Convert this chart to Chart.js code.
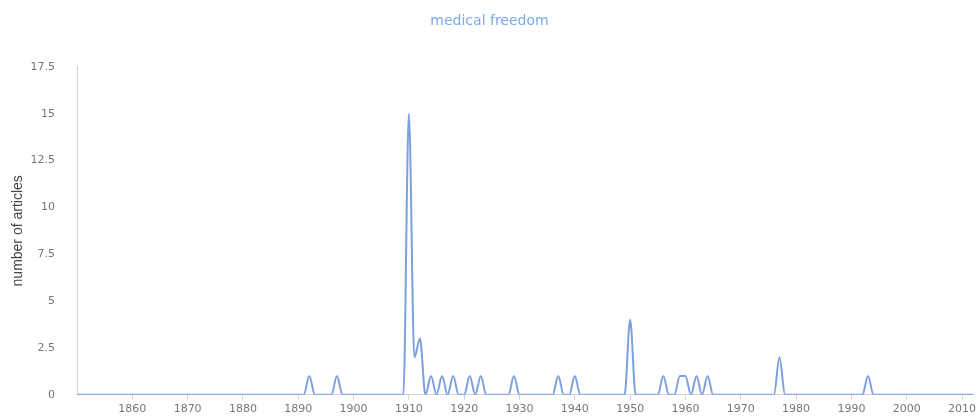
<!DOCTYPE html>
<html lang="en">
<head>
    <meta charset="UTF-8">
    <title>medical freedom</title>
    <script src="https://cdn.jsdelivr.net/npm/chart.js"></script>
    <style>
        body {
            margin: 0;
            background: #fff;
        }
        #chartContainer {
            width: 979px;
            height: 419px;
        }
    </style>
</head>
<body>

<div id="chartContainer">
    <canvas id="articlesChart"></canvas>
</div>

<script>
    // years 1850..2012, one count per year
    const years = [];
    for (let y = 1850; y <= 2012; y++) years.push(y);

    const counts = [
        // 1850s
        0, 0, 0, 0, 0, 0, 0, 0, 0, 0,
        // 1860s
        0, 0, 0, 0, 0, 0, 0, 0, 0, 0,
        // 1870s
        0, 0, 0, 0, 0, 0, 0, 0, 0, 0,
        // 1880s
        0, 0, 0, 0, 0, 0, 0, 0, 0, 0,
        // 1890s
        0, 0, 1, 0, 0, 0, 0, 1, 0, 0,
        // 1900s
        0, 0, 0, 0, 0, 0, 0, 0, 0, 0,
        // 1910s
        15, 2, 3, 0, 1, 0, 1, 0, 1, 0,
        // 1920s
        0, 1, 0, 1, 0, 0, 0, 0, 0, 1,
        // 1930s
        0, 0, 0, 0, 0, 0, 0, 1, 0, 0,
        // 1940s
        1, 0, 0, 0, 0, 0, 0, 0, 0, 0,
        // 1950s
        4, 0, 0, 0, 0, 0, 1, 0, 0, 1,
        // 1960s
        1, 0, 1, 0, 1, 0, 0, 0, 0, 0,
        // 1970s
        0, 0, 0, 0, 0, 0, 0, 2, 0, 0,
        // 1980s
        0, 0, 0, 0, 0, 0, 0, 0, 0, 0,
        // 1990s
        0, 0, 0, 1, 0, 0, 0, 0, 0, 0,
        // 2000s
        0, 0, 0, 0, 0, 0, 0, 0, 0, 0,
        // 2010-2012
        0, 0, 0
    ];

    const xTicks = [1860, 1870, 1880, 1890, 1900, 1910, 1920, 1930, 1940, 1950, 1960, 1970, 1980, 1990, 2000, 2010];
    const yTicks = [0, 2.5, 5, 7.5, 10, 12.5, 15, 17.5];

    const lineColor = 'rgb(125, 160, 225)';
    const axisColor = '#d4d4dc';
    const tickFont = { family: 'DejaVu Sans', size: 11 };

    const ctx = document.getElementById('articlesChart').getContext('2d');

    new Chart(ctx, {
        type: 'line',
        data: {
            datasets: [{
                label: 'medical freedom',
                data: years.map((y, i) => ({ x: y, y: counts[i] })),
                borderColor: lineColor,
                borderWidth: 2,
                pointRadius: 0,
                fill: false,
                cubicInterpolationMode: 'monotone'
            }]
        },
        options: {
            responsive: true,
            maintainAspectRatio: false,
            animation: false,
            layout: { padding: { left: 0, right: 0, top: 0, bottom: 0 } },
            plugins: {
                legend: { display: false },
                tooltip: { enabled: false },
                title: {
                    display: true,
                    text: 'medical freedom',
                    color: 'rgb(124, 170, 230)',
                    font: { family: 'DejaVu Sans', size: 14, weight: 'normal' },
                    padding: { top: 13, bottom: 37 }
                }
            },
            scales: {
                x: {
                    type: 'linear',
                    min: 1850,
                    max: 2012,
                    afterBuildTicks: (scale) => {
                        scale.ticks = xTicks.map(v => ({ value: v }));
                    },
                    ticks: {
                        color: '#777',
                        font: tickFont,
                        padding: 3,
                        maxRotation: 0,
                        autoSkip: false,
                        callback: (v) => String(v)
                    },
                    grid: {
                        drawOnChartArea: false,
                        drawTicks: true,
                        tickLength: 5,
                        color: axisColor
                    },
                    border: { display: true, color: axisColor, width: 1 }
                },
                y: {
                    min: 0,
                    max: 17.5,
                    afterBuildTicks: (scale) => {
                        scale.ticks = yTicks.map(v => ({ value: v }));
                    },
                    afterFit: (scale) => {
                        scale.width = 77;
                    },
                    ticks: {
                        color: '#777',
                        font: tickFont,
                        padding: 14
                    },
                    grid: { display: false },
                    border: { display: true, color: axisColor, width: 1 },
                    title: {
                        display: true,
                        text: 'number of articles',
                        color: '#444',
                        font: { family: 'Liberation Sans', size: 14 },
                        padding: { top: 10, bottom: 0 }
                    }
                }
            }
        }
    });
</script>

</body>
</html>
